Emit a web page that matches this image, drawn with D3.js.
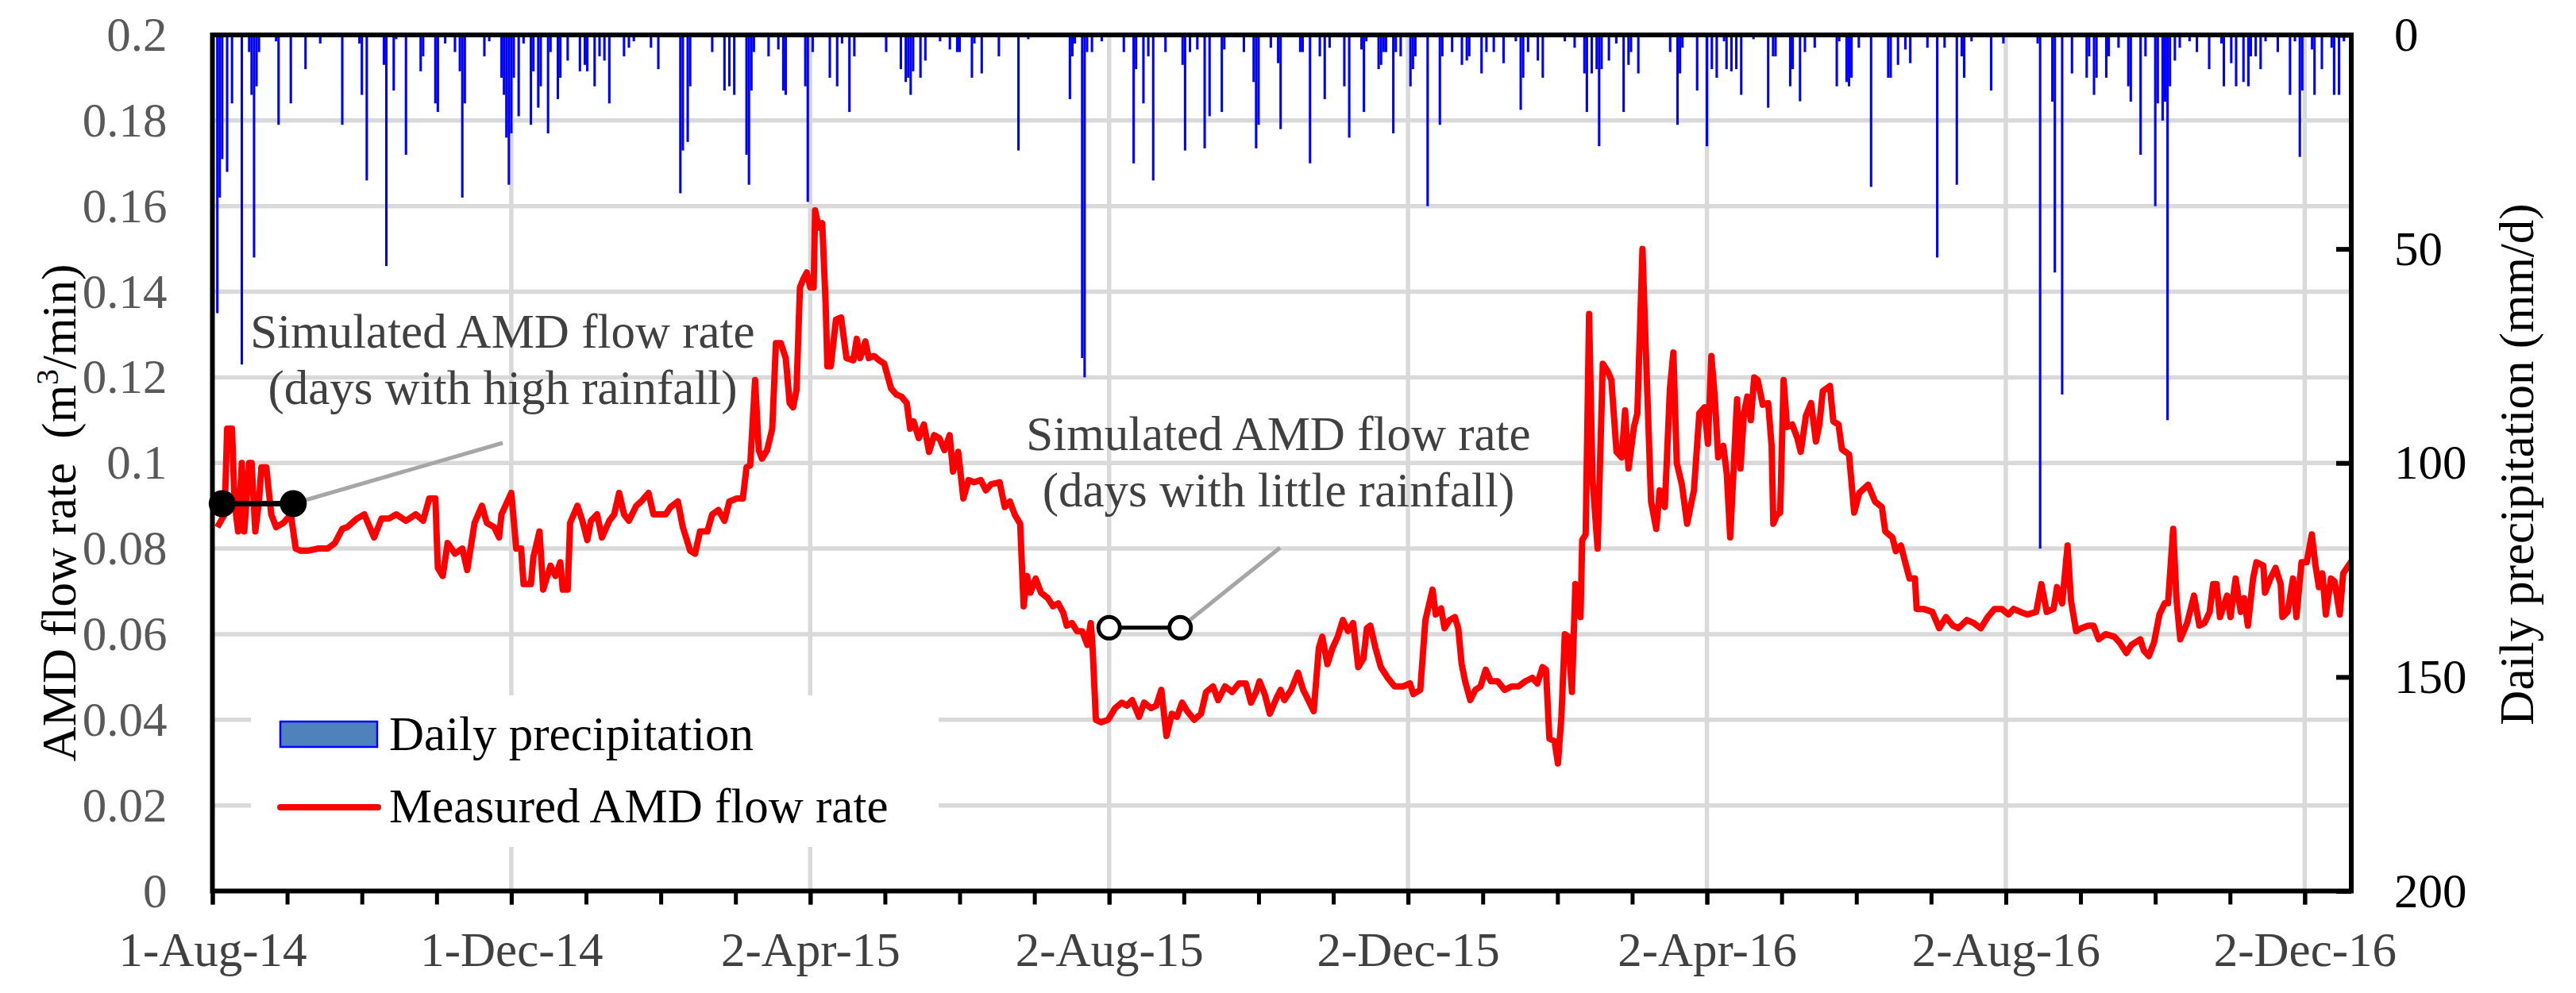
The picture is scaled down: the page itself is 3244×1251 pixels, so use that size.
<!DOCTYPE html>
<html>
<head>
<meta charset="utf-8">
<script src="https://cdn.jsdelivr.net/npm/d3@7"></script>
<style>
html,body{margin:0;padding:0;background:#fff;}
svg{display:block;}
text{font-family:"Liberation Serif","Times New Roman",serif;}
</style>
</head>
<body>
<svg id="chart" width="3244" height="1251"></svg>
<script>
// ---------------- DATA ----------------
const startDate = "2014-08-01";
const endDate = "2016-12-21";
const majorTickDates = ["2014-08-01","2014-12-01","2015-04-02","2015-08-02","2015-12-02","2016-04-02","2016-08-02","2016-12-02"];
const leftTicks = [0,0.02,0.04,0.06,0.08,0.1,0.12,0.14,0.16,0.18,0.2];
const rightTicks = [0,50,100,150,200];

// Measured AMD flow rate: day offset from 1-Aug-14, value (m3/min)
const flowDays = [2,5,6,8,9,10.5,12,13,15,16,17.5,19,20,22,24,26,29,32,34,36,39,43,47,50,53,55,59,62,66,69,72,75,79,83,86,88.5,91,92,94,96,99,102,104,107,110,112,115,117,118,122,124,126,127,130,131,133.5,135,138,140,142,143,145,146,149,151,153,154.5,157,159,162,164,166,168,170,173,175,178,180,183,185,187,190,192,195,197,199,202,204,206.5,209,211,214,216.5,218,219.5,221.5,223,224.3,226.4,228.5,230,232,234,235.6,237,238.4,239.8,241.2,242.6,244,245.4,246,247.5,248.9,250.3,251,252.4,254.5,256.6,258.8,261.6,263,264.4,266.5,267.9,270,272.1,274.2,277,279.1,281.2,283.4,284.8,286.2,288.3,290.4,292.5,294.6,296.7,298.8,300.9,302.3,304.4,306.5,308.6,310.8,313.6,315.7,317.8,321.3,323.4,325.5,327.6,329.7,331.1,332.5,333.9,336,338.2,341,343.1,345.2,347.3,348.7,350.8,352.9,355,357.1,358.5,359.2,360.6,362.7,365.6,368.4,371.2,373.3,375.4,378.2,380.3,383.1,385.2,387.3,389.4,391.6,393.7,395.8,397.9,400.7,403.5,405.6,408.4,410.5,413.3,416.2,419,421.8,423.9,426,427.4,429.5,431.6,434.4,436,437.5,440.3,443.1,445.2,447.3,449.5,451.6,453,455.1,457.2,459.3,461.4,463.5,465.6,467.7,469.8,471.2,472.6,474.7,476.9,479.7,482.5,486,488.8,490.2,493,495.1,498,499.3,501.5,502.9,505,507.1,508.5,509.9,511.3,513.4,515.5,517.6,519.7,521.8,524.6,527.4,530.3,533.1,535.9,538.7,540.8,542.9,544.3,545.7,547.8,549.2,550.6,552,553.4,554.9,556.3,558.4,559.1,560.5,561.9,563.3,565.4,567.5,569.6,571,573.1,575.2,576.6,578,580.2,581.6,583.7,585.1,587.2,589.3,590.7,592.8,594.9,596.3,597.7,599.8,601.9,604.7,606.9,609,610.4,611.8,613.2,614.6,616.7,618.1,619.5,620.9,622.3,623.7,625.1,626.5,627.9,629.3,630.7,632.8,635,636.4,637.1,638.5,639.9,641.3,642.7,644.8,646.9,648.3,650.4,652.5,654.5,655.9,657.3,660.2,661.6,663.7,665.1,668,670.1,672.2,675.8,678.6,681.4,682.8,685.7,687.1,689.2,690.6,692.7,694.9,695.6,698.4,702,704.8,707.6,710.4,712.6,716.1,718.9,721.8,724.6,727.4,730.3,733.1,735.2,738,740.9,744.4,746.5,748.7,751.5,752.9,755,757.2,758.6,760.7,762.8,765.6,767.8,769.9,772.7,776.3,778.4,781.2,783.3,786.9,788.3,790.4,792.5,794.7,796.8,798.2,800.3,801.7,803.2,806,808.8,811,813.1,815.2,816.6,818,819.4,822.3,823.7,825.8,827.9,829.3,830.8,832.9,834.3,837.1,837.8,840,842.1,844.2,844.9,847,849.2,850.6,852.7,854.8,856.9,858.4,859.8,861.2,862.6,864.7,866.2,868.3,869.7,871.8,873];
const flowValues = [.085,.088,.108,.108,.091,.084,.100,.084,.100,.100,.084,.091,.099,.099,.088,.085,.086,.088,.080,.0795,.0795,.080,.080,.0813,.0846,.085,.087,.088,.0826,.087,.087,.088,.0865,.088,.0865,.0917,.0917,.0755,.0736,.0813,.0788,.080,.075,.086,.090,.086,.085,.0826,.088,.093,.080,.080,.0717,.0717,.078,.084,.0704,.076,.0736,.0768,.0704,.0704,.086,.090,.0865,.082,.0865,.088,.0826,.0865,.088,.093,.088,.0865,.090,.091,.093,.088,.088,.088,.0897,.091,.085,.0795,.0788,.084,.084,.088,.089,.0865,.091,.0917,.0917,.099,.0994,.1194,.103,.101,.103,.108,.128,.128,.1245,.114,.113,.117,.141,.143,.1445,.141,.141,.159,.155,.156,.137,.1226,.1226,.1335,.134,.1245,.124,.129,.1245,.1284,.1245,.125,.124,.1232,.1174,.116,.1155,.114,.108,.1097,.1058,.109,.1026,.1065,.1058,.103,.1065,.098,.1026,.0917,.096,.0955,.096,.0936,.095,.0955,.0897,.091,.0878,.0858,.0665,.0736,.0697,.073,.0697,.0684,.0665,.0672,.065,.062,.0626,.0607,.0607,.0575,.0626,.0575,.040,.0394,.040,.0427,.044,.0433,.0446,.0407,.044,.0427,.0433,.047,.0362,.0414,.0407,.044,.042,.040,.0414,.0465,.0478,.0446,.0478,.0465,.0485,.0485,.044,.0465,.049,.046,.0414,.0452,.047,.0446,.047,.051,.047,.0446,.042,.0568,.0594,.053,.0568,.0594,.0633,.0607,.0626,.0523,.0543,.0614,.062,.0568,.0523,.0498,.0478,.0478,.0485,.046,.047,.0633,.0704,.0646,.066,.0614,.0633,.064,.0614,.053,.049,.0446,.047,.0478,.0517,.049,.049,.047,.0478,.0478,.049,.0498,.0485,.0523,.0517,.0356,.035,.0298,.0407,.060,.0594,.0465,.0717,.064,.082,.0833,.1348,.0962,.080,.1232,.1213,.1194,.1026,.1013,.1123,.0987,.1084,.1116,.150,.1258,.091,.0846,.0936,.0897,.1174,.1258,.100,.0949,.0858,.0936,.1116,.113,.1045,.125,.1155,.1013,.104,.0975,.0826,.0987,.1149,.0987,.1116,.1155,.110,.120,.1194,.1136,.114,.104,.0858,.0878,.0884,.1194,.1084,.109,.1058,.1026,.111,.114,.105,.109,.1168,.118,.1097,.109,.1032,.102,.0884,.093,.0949,.091,.0897,.084,.0826,.0794,.0807,.0775,.073,.073,.0659,.0659,.0652,.0614,.064,.062,.0614,.0633,.0626,.0614,.064,.0659,.0659,.0646,.0659,.0652,.0646,.0652,.0717,.0652,.0659,.071,.0672,.0807,.0678,.0607,.0614,.062,.062,.0588,.060,.0594,.0581,.0556,.0575,.0588,.0562,.0549,.0581,.0646,.0672,.0672,.0846,.0678,.0588,.0626,.069,.062,.0626,.0652,.0717,.0717,.064,.069,.064,.073,.0652,.0684,.062,.073,.0768,.076,.0697,.073,.0755,.0717,.064,.0652,.073,.064,.0768,.0768,.0833,.076,.071,.0742,.0646,.073,.0723,.0646,.0742,.076,.077];

// Daily precipitation: day offset from 1-Aug-14, value (mm/d)
const precipDays = [2,3,4,6,8,12,15,16,17,18,19,26,27,32,38,44,53,60,61,63,70,71,74,75,79,85,86,91,92,95,99,101,102,103,111,113,118,119,120,121,122,123,125,127,130,131,133,134,137,138,141,142,145,150,152,153,156,158,160,162,168,170,172,179,182,191,192,194,195,204,209,211,213,218,219,220,221,227,231,233,234,242,243,245,252,255,257,260,262,275,281,283,284,285,286,289,291,297,301,304,305,310,311,314,321,329,333,350,351,352,355,356,357,359,363,372,376,377,380,382,384,389,396,397,399,402,405,407,412,413,421,425,426,427,432,435,436,444,445,448,452,454,456,462,464,469,470,471,476,477,478,479,482,483,485,489,490,491,496,501,502,506,510,512,513,518,520,523,527,532,534,535,537,541,543,552,556,560,561,563,565,566,567,570,573,576,578,579,582,595,598,599,600,606,610,612,614,617,618,620,622,624,629,635,637,638,644,645,648,650,654,663,664,667,668,669,672,677,684,685,688,691,693,700,704,707,712,714,715,718,726,731,745,746,751,752,755,759,765,766,768,769,773,774,778,782,783,787,789,793,794,796,797,798,799,801,803,807,810,815,820,821,824,826,829,831,832,834,836,838,843,848,850,852,853,857,858,861,865,866,868,870];
const precipMm = [65,38,29,32,16,77,4,14,52,12,4,1.5,21,16,8,2,21,2,14,34,7,54,13,1,28,8.5,5,16,18,2,4,8.5,38,16,5,1.5,10,14,24,35,23,10,19,2,21,8.5,17,12,23,4,15,10,6,8.5,7,8.5,12,5,6,16,5,3,1.5,3,8,37,27,25,12,4,13,12,14,28,35,13,4,5,3.4,13,14,12,39,4,10,12,2,18,5,4,8,11,10,14,8.5,10,6,1.5,3.4,4,4,10,2,9,5,27,1,15,5,2,75.5,80,4,4,1.5,4,30,8,16,5,34,4,7,27,4,3.4,26.5,19,18,3.4,4,11,26.5,21,3,6.6,22,4,4,30,5,15,3,12,24,3.4,18,1.5,8,7,4,4,23,4,5,12,8,5,40,21,5,4,7,6,5,9,4,4,6.6,1.5,17.5,10,4,6,10,1.5,3,9,18,9,8,26,8,6,2,18,7,4,9,4,21,9,3,13,26,8,10,1.5,8,8.5,8,14,1,17,5,5,12,8,15.5,4,3,12,1.5,11,12,10,3,35.5,10,10,7,3.4,6.6,3,52,3,35,5,10,1.5,13,2,2,120,15.6,55.5,84,9,10,5,14,10,10,5,3,12,15.6,28,5,40,16,20,15.6,90,12,6,3,1.5,4,8,2,12,6.6,12,11,12,5,5,8,1.5,4,14,1.5,28.5,13,3.4,14,8,3,14,14,1.5];

// Simulated AMD flow rate markers
const simHighDays = [4,33];
const simHighValues = [0.0905,0.0905];
const simLowDays = [366,395];
const simLowValues = [0.0615,0.0615];

// ---------------- CHART ----------------
const svg = d3.select("#chart");
const dayMs = 864e5;
const t0 = new Date(startDate + "T00:00:00Z").getTime();
const toDate = d => new Date(t0 + d * dayMs);
const parse = s => new Date(s + "T00:00:00Z");

const plot = {left:267.5, right:2961, top:44, bottom:1122.5};
const FS = 61;

const x = d3.scaleUtc().domain([parse(startDate), parse(endDate)]).range([plot.left, plot.right]);
const yL = d3.scaleLinear().domain([0,0.2]).range([plot.bottom, plot.top]);
const yR = d3.scaleLinear().domain([0,200]).range([plot.top, plot.bottom]);

const grid = "#d9d9d9";
// horizontal gridlines
svg.append("g").selectAll("line").data(leftTicks.filter(v => v > 0 && v < 0.2)).join("line")
  .attr("x1", plot.left).attr("x2", plot.right)
  .attr("y1", d => yL(d)).attr("y2", d => yL(d))
  .attr("stroke", grid).attr("stroke-width", 5.5);
// vertical gridlines
svg.append("g").selectAll("line").data(majorTickDates.slice(1).map(parse)).join("line")
  .attr("x1", d => x(d)).attr("x2", d => x(d))
  .attr("y1", plot.top).attr("y2", plot.bottom)
  .attr("stroke", grid).attr("stroke-width", 5.5);

// legend background (covers gridlines)
svg.append("rect").attr("x", 316).attr("y", 876).attr("width", 866).attr("height", 191).attr("fill", "#fff");

// precipitation bars
const dayW = x(toDate(1)) - x(toDate(0));
svg.append("g").selectAll("rect").data(precipDays.map((d,i) => ({d, v: precipMm[i]}))).join("rect")
  .attr("x", p => x(toDate(p.d)) - dayW/2)
  .attr("width", dayW)
  .attr("y", yR(0))
  .attr("height", p => yR(p.v) - yR(0))
  .attr("fill", "#0000ff");

// measured flow line
const flow = flowDays.map((d,i) => ({d, v: flowValues[i]}));
svg.append("path").datum(flow)
  .attr("fill", "none").attr("stroke", "#ff0000").attr("stroke-width", 8)
  .attr("stroke-linejoin", "round")
  .attr("d", d3.line().x(p => x(toDate(p.d))).y(p => yL(p.v)));

// annotations
const annColor = "#404040";
function annotation(lines, cx, baseY, lineFrom, lineTo) {
  svg.append("line").attr("x1", lineFrom[0]).attr("y1", lineFrom[1]).attr("x2", lineTo[0]).attr("y2", lineTo[1])
    .attr("stroke", "#a6a6a6").attr("stroke-width", 5);
  const t = svg.append("text").attr("fill", annColor).attr("font-size", FS).attr("text-anchor", "middle");
  lines.forEach((l, i) => t.append("tspan").attr("x", cx).attr("y", baseY + i * 71).text(l));
}
const hp = simHighDays.map((d,i) => [x(toDate(d)), yL(simHighValues[i])]);
const lp = simLowDays.map((d,i) => [x(toDate(d)), yL(simLowValues[i])]);
annotation(["Simulated AMD flow rate", "(days with high rainfall)"], 633, 438, hp[1], [633, 558]);
annotation(["Simulated AMD flow rate", "(days with little rainfall)"], 1610, 567, lp[1], [1612, 690]);

// simulated markers
svg.append("line").attr("x1", hp[0][0]).attr("y1", hp[0][1]).attr("x2", hp[1][0]).attr("y2", hp[1][1])
  .attr("stroke", "#000").attr("stroke-width", 7);
svg.append("g").selectAll("circle").data(hp).join("circle")
  .attr("cx", p => p[0]).attr("cy", p => p[1]).attr("r", 17).attr("fill", "#000");
svg.append("line").attr("x1", lp[0][0]).attr("y1", lp[0][1]).attr("x2", lp[1][0]).attr("y2", lp[1][1])
  .attr("stroke", "#000").attr("stroke-width", 5);
svg.append("g").selectAll("circle").data(lp).join("circle")
  .attr("cx", p => p[0]).attr("cy", p => p[1]).attr("r", 13.5).attr("fill", "#fff")
  .attr("stroke", "#000").attr("stroke-width", 5);

// axes
const fmtDate = d3.utcFormat("%-d-%b-%y");
const minorTicks = d3.range(0, x.invert(plot.right).getTime() - t0 + 1, 30.5 * dayMs).map(ms => new Date(t0 + ms));

const gMinor = svg.append("g").attr("transform", `translate(0,${plot.bottom})`)
  .call(d3.axisBottom(x).tickValues(minorTicks).tickSize(17).tickFormat(""));
const gMajor = svg.append("g").attr("transform", `translate(0,${plot.bottom})`)
  .call(d3.axisBottom(x).tickValues(majorTickDates.map(parse)).tickSize(17).tickPadding(34).tickFormat(fmtDate));
[gMinor, gMajor].forEach(g => {
  g.select(".domain").remove();
  g.selectAll(".tick line").attr("stroke", "#000").attr("stroke-width", 5);
});
gMajor.selectAll("text").attr("font-size", FS).attr("fill", "#404040")
  .attr("font-family", "'Liberation Serif', serif");

const gLeft = svg.append("g").attr("transform", `translate(${plot.left},0)`)
  .call(d3.axisLeft(yL).tickValues(leftTicks).tickSize(0).tickPadding(57).tickFormat(d => String(+d.toFixed(2))));
gLeft.select(".domain").remove();
gLeft.selectAll("text").attr("font-size", FS).attr("fill", "#595959")
  .attr("font-family", "'Liberation Serif', serif");

const gRight = svg.append("g").attr("transform", `translate(${plot.right},0)`)
  .call(d3.axisRight(yR).tickValues(rightTicks).tickSizeInner(-19).tickSizeOuter(0).tickPadding(54));
gRight.select(".domain").remove();
gRight.selectAll(".tick line").attr("stroke", "#000").attr("stroke-width", 6);
gRight.selectAll("text").attr("font-size", FS).attr("fill", "#000")
  .attr("font-family", "'Liberation Serif', serif");

// plot border
svg.append("rect").attr("x", plot.left).attr("y", plot.top)
  .attr("width", plot.right - plot.left).attr("height", plot.bottom - plot.top)
  .attr("fill", "none").attr("stroke", "#000").attr("stroke-width", 6);

// axis titles
const lt = svg.append("text").attr("transform", "translate(95,646) rotate(-90)")
  .attr("text-anchor", "middle").attr("font-size", FS).attr("fill", "#000");
lt.append("tspan").text("AMD flow rate\u00A0\u00A0(m");
lt.append("tspan").attr("font-size", 40).attr("dy", -22).text("3");
lt.append("tspan").attr("dy", 22).text("/min)");

svg.append("text").attr("transform", "translate(3190,585) rotate(-90)")
  .attr("text-anchor", "middle").attr("font-size", FS).attr("fill", "#000")
  .text("Daily precipitation (mm/d)");

// legend
const leg = svg.append("g");
leg.append("rect").attr("x", 353).attr("y", 909).attr("width", 122).attr("height", 32)
  .attr("fill", "#4f81bd").attr("stroke", "#0000ff").attr("stroke-width", 2.5);
leg.append("text").attr("x", 490).attr("y", 945).attr("font-size", FS).attr("fill", "#000").text("Daily precipitation");
leg.append("line").attr("x1", 353).attr("x2", 476).attr("y1", 1017).attr("y2", 1017)
  .attr("stroke", "#ff0000").attr("stroke-width", 8).attr("stroke-linecap", "round");
leg.append("text").attr("x", 490).attr("y", 1036).attr("font-size", FS).attr("fill", "#000").text("Measured AMD flow rate");
</script>
</body>
</html>
